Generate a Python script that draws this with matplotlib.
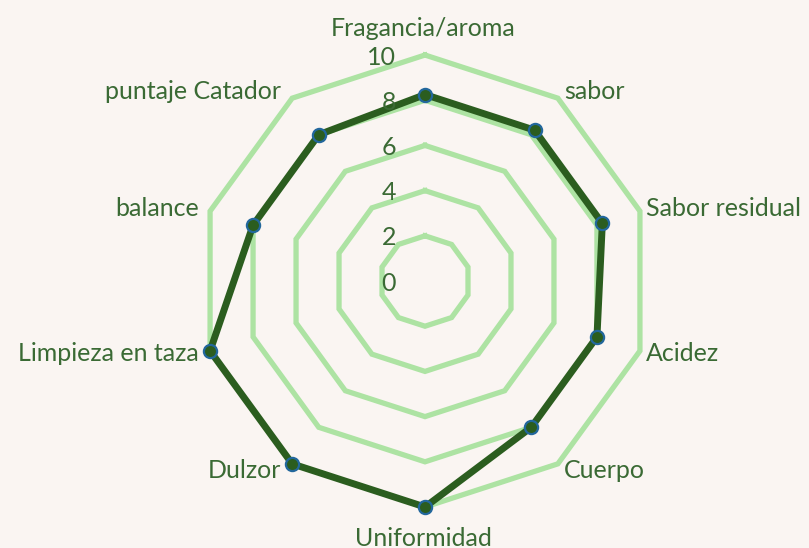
import numpy as np
import matplotlib.pyplot as plt

# categorias y puntajes
categorias = ["Fragancia/aroma", "sabor", "Sabor residual", "Acidez", "Cuerpo",
              "Uniformidad", "Dulzor", "Limpieza en taza", "balance", "puntaje Catador"]
puntajes = [8.25, 8.25, 8.25, 8.0, 8.0, 10, 10, 10, 8.0, 8.0]
niveles = [2, 4, 6, 8, 10]
etiquetas_eje = [0, 2, 4, 6, 8, 10]

fondo = "#FAF5F2"
verde_claro = "#ADE3A3"
verde_oscuro = "#2B5D1F"
texto = "#3A6A34"

plt.rcParams['font.family'] = ['Lato', 'DejaVu Sans']

fig = plt.figure(figsize=(8.09, 5.48), dpi=100, facecolor=fondo)
ax = fig.add_axes([0.246, 0.0748, 0.5587, 0.8248], projection='polar')
ax.set_facecolor(fondo)
ax.set_theta_zero_location('N')
ax.set_theta_direction(-1)

n = len(categorias)
ang = np.linspace(0, 2 * np.pi, n, endpoint=False)
ang_c = np.append(ang, ang[0])

# anillos de la grilla (decagonos)
for v in niveles:
    ax.plot(ang_c, [v] * (n + 1), color=verde_claro, lw=3.8, zorder=1,
            solid_joinstyle='miter', clip_on=False)

vals = puntajes + puntajes[:1]
ax.plot(ang_c, vals, color=verde_oscuro, lw=5, zorder=3, solid_joinstyle='miter',
        clip_on=False)
ax.plot(ang, puntajes, 'o', ms=9.5, mfc=verde_oscuro, mec="#22679C", mew=1.6,
        zorder=4, clip_on=False)

ax.set_ylim(0, 10)
ax.grid(False)
ax.spines['polar'].set_visible(False)
ax.set_xticks([])
ax.set_yticks([])

# numeros del eje
for v in etiquetas_eje:
    ax.annotate(str(v), xy=(0, v), xytext=(-29, -2), textcoords='offset pixels',
                ha='right', va='center', fontsize=18, color=texto)

# etiquetas de categorias
for a, lab in zip(ang, categorias):
    s, c = np.sin(a), np.cos(a)
    if abs(s) < 0.1:
        off = (-2, 27 if c > 0 else -31)
        ha = 'center'
    elif s > 0:
        off = (6, 8 * c)
        ha = 'left'
    else:
        off = (-11, 8 * c)
        ha = 'right'
    ax.annotate(lab, xy=(a, 10), xytext=off, textcoords='offset pixels',
                ha=ha, va='center', fontsize=18, color=texto, annotation_clip=False)

fig.savefig("out.png", dpi=100, facecolor=fondo)
